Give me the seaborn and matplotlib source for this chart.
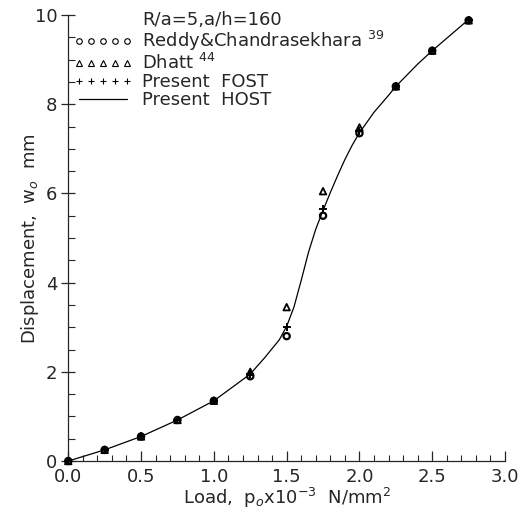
import numpy as np
import pandas as pd
import seaborn as sns
import matplotlib
matplotlib.use("Agg")
import matplotlib.pyplot as plt
from matplotlib.lines import Line2D
from matplotlib.ticker import MultipleLocator, FormatStrFormatter

# Load steps (p_o x 10^-3 N/mm^2)
load = [0.0, 0.25, 0.5, 0.75, 1.0, 1.25, 1.5, 1.75, 2.0, 2.25, 2.5, 2.75]

# Central displacement w_o (mm)
reddy = [0.0, 0.25, 0.55, 0.92, 1.35, 1.90, 2.80, 5.50, 7.35, 8.40, 9.20, 9.88]
dhatt = [0.0, 0.25, 0.55, 0.92, 1.35, 2.00, 3.45, 6.05, 7.48, 8.40, 9.20, 9.88]
fost = [0.0, 0.25, 0.55, 0.92, 1.35, 1.95, 3.00, 5.65, 7.40, 8.40, 9.20, 9.88]

# Higher-order shear theory response curve
host_load = [0.0, 0.25, 0.5, 0.75, 1.0, 1.25, 1.35, 1.45, 1.5, 1.55, 1.6,
             1.65, 1.7, 1.75, 1.8, 1.85, 1.9, 1.95, 2.0, 2.1, 2.2, 2.25,
             2.4, 2.5, 2.6, 2.75]
host_w = [0.0, 0.25, 0.55, 0.92, 1.35, 1.95, 2.32, 2.72, 3.02, 3.45, 4.05,
          4.68, 5.20, 5.62, 6.02, 6.40, 6.76, 7.08, 7.36, 7.82, 8.20, 8.40,
          8.90, 9.20, 9.48, 9.90]

legend_title = "R/a=5,a/h=160"
labels = ["Reddy&Chandrasekhara $^{39}$", "Dhatt $^{44}$",
          "Present  FOST", "Present  HOST"]

sns.set_style("ticks")
plt.rcParams["font.family"] = ["DejaVu Sans"]
plt.rcParams["mathtext.fontset"] = "dejavusans"

fig = plt.figure(figsize=(5.25, 5.18), dpi=100)
ax = fig.add_axes([0.130, 0.110, 0.832, 0.861])

host_df = pd.DataFrame({"load": host_load, "w": host_w})
sns.lineplot(data=host_df, x="load", y="w", ax=ax, color="black",
             linewidth=0.9, sort=False, estimator=None)

pts = pd.DataFrame({"load": load, "reddy": reddy, "dhatt": dhatt, "fost": fost})
sns.scatterplot(data=pts, x="load", y="reddy", ax=ax, marker="o", s=20,
                facecolor="none", edgecolor="black", linewidth=1.6,
                clip_on=False, zorder=3)
sns.scatterplot(data=pts, x="load", y="dhatt", ax=ax, marker="^", s=22,
                facecolor="none", edgecolor="black", linewidth=1.3,
                clip_on=False, zorder=3)
sns.scatterplot(data=pts, x="load", y="fost", ax=ax, marker="+", s=36,
                color="black", linewidth=1.4, clip_on=False, zorder=3)

ax.set_xlim(0, 3.0)
ax.set_ylim(0, 10)
ax.xaxis.set_major_locator(MultipleLocator(0.5))
ax.xaxis.set_minor_locator(MultipleLocator(0.1))
ax.yaxis.set_major_locator(MultipleLocator(2))
ax.yaxis.set_minor_locator(MultipleLocator(0.5))
ax.xaxis.set_major_formatter(FormatStrFormatter("%.1f"))
ax.tick_params(axis="x", which="major", direction="in", length=7, width=0.9,
               labelsize=13, pad=5)
ax.tick_params(axis="x", which="minor", direction="in", length=4, width=0.8)
ax.tick_params(axis="y", which="major", direction="inout", length=10, width=0.9,
               labelsize=13, pad=3)
ax.tick_params(axis="y", which="minor", direction="in", length=5, width=0.8)
sns.despine(ax=ax)
for s in ("left", "bottom"):
    ax.spines[s].set_linewidth(0.9)

ax.set_xlabel("Load,  p$_o$x10$^{-3}$  N/mm$^2$", fontsize=13, labelpad=0)
ax.set_ylabel("Displacement,  w$_o$  mm", fontsize=13)
ax.yaxis.set_label_coords(-0.062, 0.5)

handles = [
    Line2D([], [], linestyle="none", marker=None),
    Line2D([], [], linestyle="none", marker="o", markersize=4,
           markerfacecolor="none", markeredgecolor="black", markeredgewidth=0.8),
    Line2D([], [], linestyle="none", marker="^", markersize=4,
           markerfacecolor="none", markeredgecolor="black", markeredgewidth=0.8),
    Line2D([], [], linestyle="none", marker="+", markersize=5,
           color="black", markeredgewidth=0.8),
    Line2D([], [], color="black", linewidth=0.9),
]
leg = ax.legend(handles, [legend_title] + labels, loc="upper left",
                bbox_to_anchor=(-0.005, 1.025), frameon=False, fontsize=13,
                numpoints=5, handlelength=3.3, handletextpad=0.5,
                labelspacing=0.0, borderaxespad=0)

fig.savefig("out.png", dpi=100)
